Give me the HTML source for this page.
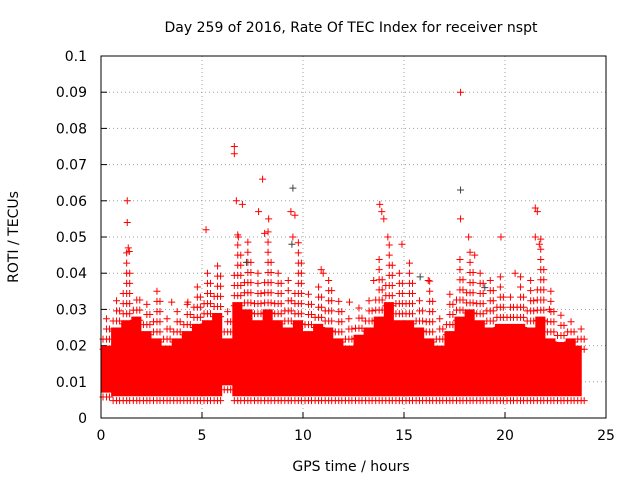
<!DOCTYPE html>
<html><head><meta charset="utf-8"><style>
body{margin:0;background:#fff;}
svg{display:block;font-family:"DejaVu Sans","Liberation Sans",sans-serif;}
</style></head><body>
<svg id="chart" width="640" height="480" viewBox="0 0 640 480">
<rect width="640" height="480" fill="#fff"/>
<text x="351" y="32" text-anchor="middle" font-size="14" fill="#000">Day 259 of 2016, Rate Of TEC Index for receiver nspt</text>
<text x="351" y="471" text-anchor="middle" font-size="14">GPS time / hours</text>
<text x="18" y="237" text-anchor="middle" font-size="14" transform="rotate(-90 18 237)">ROTI / TECUs</text>
<g id="grid"></g>
<g id="ticks"></g>
<g id="marks"></g>
<rect x="101" y="56" width="505" height="362" fill="none" stroke="#000" stroke-width="1"/>
</svg>
<script>
const xTicks=[0,5,10,15,20,25];
const yTicks=[0,0.01,0.02,0.03,0.04,0.05,0.06,0.07,0.08,0.09,0.1];
const yTickLabels=["0","0.01","0.02","0.03","0.04","0.05","0.06","0.07","0.08","0.09","0.1"];
const binHours=[0,0.5,1,1.5,2,2.5,3,3.5,4,4.5,5,5.5,6,6.5,7,7.5,8,8.5,9,9.5,10,10.5,11,11.5,12,12.5,13,13.5,14,14.5,15,15.5,16,16.5,17,17.5,18,18.5,19,19.5,20,20.5,21,21.5,22,22.5,23,23.5];
const denseTop=[0.02,0.025,0.027,0.028,0.024,0.022,0.02,0.022,0.024,0.026,0.027,0.029,0.022,0.032,0.03,0.027,0.03,0.027,0.025,0.027,0.024,0.026,0.025,0.022,0.02,0.023,0.025,0.028,0.032,0.027,0.027,0.025,0.022,0.02,0.024,0.028,0.03,0.027,0.025,0.026,0.026,0.026,0.025,0.028,0.022,0.021,0.022,0.02];
const denseBottom=[0.007,0.006,0.006,0.006,0.006,0.006,0.006,0.006,0.006,0.006,0.006,0.006,0.009,0.006,0.006,0.006,0.006,0.006,0.006,0.006,0.006,0.006,0.006,0.006,0.006,0.006,0.006,0.006,0.006,0.006,0.006,0.006,0.006,0.006,0.006,0.006,0.006,0.006,0.006,0.006,0.006,0.006,0.006,0.006,0.006,0.006,0.006,0.006];
const binPeak=[0.03,0.035,0.047,0.035,0.033,0.037,0.03,0.032,0.032,0.038,0.042,0.044,0.03,0.052,0.05,0.04,0.052,0.042,0.038,0.05,0.035,0.037,0.04,0.033,0.03,0.032,0.035,0.045,0.05,0.042,0.045,0.035,0.038,0.03,0.035,0.045,0.048,0.042,0.04,0.04,0.035,0.04,0.038,0.05,0.035,0.03,0.028,0.025];
const outHours=[1.3,1.3,1.35,1.4,6.6,6.6,6.7,7.0,8.0,7.8,8.3,9.4,9.6,9.5,13.8,13.9,14.0,14.2,14.9,17.8,17.8,18.2,19.8,21.5,21.6,21.5,21.7,5.2,11.0,10.9,6.8,8.1,18.5,20.5,13.5,3.5,4.3,22.2,16.2,12.3];
const outVals=[0.06,0.054,0.047,0.046,0.075,0.073,0.06,0.059,0.066,0.057,0.055,0.057,0.056,0.05,0.059,0.057,0.055,0.05,0.048,0.09,0.055,0.05,0.05,0.058,0.057,0.05,0.048,0.052,0.04,0.041,0.05,0.051,0.045,0.04,0.038,0.032,0.032,0.03,0.038,0.032];
const greyHours=[9.5,17.8,9.45,19.0,7.2,15.8];
const greyVals=[0.0635,0.063,0.048,0.036,0.043,0.039];

const PL=101,PR=606,PT=56,PB=418;
const xs=h=>PL+h/25*(PR-PL);
const ys=v=>PB-v/0.1*(PB-PT);
const NS="http://www.w3.org/2000/svg";
function mk(tag,attrs,parent){const e=document.createElementNS(NS,tag);for(const k in attrs)e.setAttribute(k,attrs[k]);parent.appendChild(e);return e;}
const gridG=document.getElementById('grid'),ticksG=document.getElementById('ticks'),marksG=document.getElementById('marks');
xTicks.forEach(t=>{const x=xs(t);
 if(t>0&&t<25){const g=mk('line',{x1:x,x2:x,y1:PT,y2:PB,stroke:'#a0a0a0','stroke-dasharray':'1,3'},gridG);
 
 }
 const tl=mk('line',{x1:x,x2:x,y1:PB,y2:PB-6,stroke:'#000'},ticksG);
 
 
 const tx=mk('text',{x:x,y:PB+22,'text-anchor':'middle','font-size':14},ticksG);tx.textContent=t;
 
 });
yTicks.forEach((t,i)=>{const y=ys(t);
 if(i>0&&i<yTicks.length-1){const g=mk('line',{x1:PL,x2:PR,y1:y,y2:y,stroke:'#a0a0a0','stroke-dasharray':'1,3'},gridG);
 
 }
 const tl=mk('line',{x1:PL,x2:PL+6,y1:y,y2:y,stroke:'#000'},ticksG);
 
 
 const tx=mk('text',{x:PL-14,y:y+5,'text-anchor':'end','font-size':14},ticksG);tx.textContent=yTickLabels[i];
 
 });
function plus(h,v,col){const x=xs(h),y=ys(v);
 const p=mk('path',{d:`M${x-3.5},${y}h7M${x},${y-3.5}v7`,stroke:col,'stroke-width':1},marksG);
 
 }
let bandTop=[],bandBot=[];
binHours.forEach((h,i)=>{const x0=xs(Math.max(0,h)),x1=xs(Math.min(23.8,h+0.5));
 bandTop.push(`${x0},${ys(denseTop[i])}`,`${x1},${ys(denseTop[i])}`);
 bandBot.unshift(`${x1},${ys(denseBottom[i])}`,`${x0},${ys(denseBottom[i])}`);});
const band=mk('polygon',{points:bandTop.concat(bandBot).join(' '),fill:'#ff0000'},marksG);


const offs=[0.1,0.27,0.42];
const reach=[0.4,1,0.7];
binHours.forEach((h,i)=>{
 offs.forEach((o,k)=>{
  const lim=denseTop[i]+(binPeak[i]-denseTop[i])*reach[k];
  for(let v=denseTop[i]-0.001;v<=lim;v+=0.0028)plus(h+o,v,'#ff0000');
  plus(h+o,denseBottom[i]-0.0012,'#ff0000');
 });
});
greyHours.forEach((h,i)=>plus(h,greyVals[i],'#404040'));
outHours.forEach((h,i)=>plus(h,outVals[i],'#ff0000'));
</script>
</body></html>
